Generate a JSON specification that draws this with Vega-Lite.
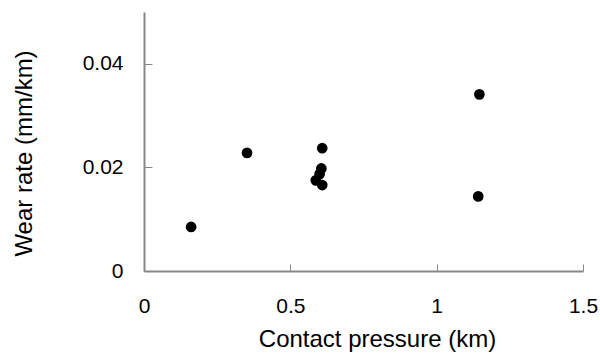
{
  "$schema": "https://vega.github.io/schema/vega-lite/v6.json",
  "width": 439,
  "height": 259,
  "autosize": "none",
  "padding": {"left": 144, "top": 12, "right": 17, "bottom": 82},
  "background": "white",
  "config": {
    "view": {"stroke": null},
    "font": "Liberation Sans"
  },
  "data": {
    "values": [
      {"pressure": 0.161, "wear": 0.0085},
      {"pressure": 0.352, "wear": 0.0228},
      {"pressure": 0.609, "wear": 0.0237},
      {"pressure": 0.606, "wear": 0.0198},
      {"pressure": 0.600, "wear": 0.0187},
      {"pressure": 0.587, "wear": 0.0175},
      {"pressure": 0.609, "wear": 0.0166},
      {"pressure": 1.146, "wear": 0.0341},
      {"pressure": 1.142, "wear": 0.0144}
    ]
  },
  "mark": {"type": "point", "filled": true, "color": "black", "opacity": 1, "size": 115, "shape": "circle"},
  "encoding": {
    "x": {
      "field": "pressure",
      "type": "quantitative",
      "scale": {"domain": [0, 1.5], "nice": false, "zero": false},
      "axis": {
        "title": "Contact pressure (km)",
        "values": [0, 0.5, 1, 1.5],
        "format": "~g",
        "grid": false,
        "domainColor": "#888888",
        "domainWidth": 2,
        "tickColor": "#888888",
        "tickWidth": 1,
        "tickSize": -7,
        "labelFont": "Liberation Sans",
        "labelFontSize": 21,
        "labelColor": "#000000",
        "labelPadding": 31,
        "labelFlush": false,
        "titleFont": "Liberation Sans",
        "titleFontSize": 24,
        "titleFontWeight": "normal",
        "titleColor": "#000000",
        "titlePadding": 11,
        "titleX": 233
      }
    },
    "y": {
      "field": "wear",
      "type": "quantitative",
      "scale": {"domain": [0, 0.05], "nice": false, "zero": true},
      "axis": {
        "title": "Wear rate  (mm/km)",
        "values": [0, 0.02, 0.04],
        "format": "~g",
        "grid": false,
        "domainColor": "#888888",
        "domainWidth": 2,
        "tickColor": "#888888",
        "tickWidth": 1,
        "tickSize": -8,
        "labelFont": "Liberation Sans",
        "labelFontSize": 21,
        "labelColor": "#000000",
        "labelPadding": 29,
        "labelFlush": false,
        "titleFont": "Liberation Sans",
        "titleFontSize": 24,
        "titleFontWeight": "normal",
        "titleColor": "#000000",
        "titlePadding": 46,
        "titleY": 141
      }
    }
  }
}
